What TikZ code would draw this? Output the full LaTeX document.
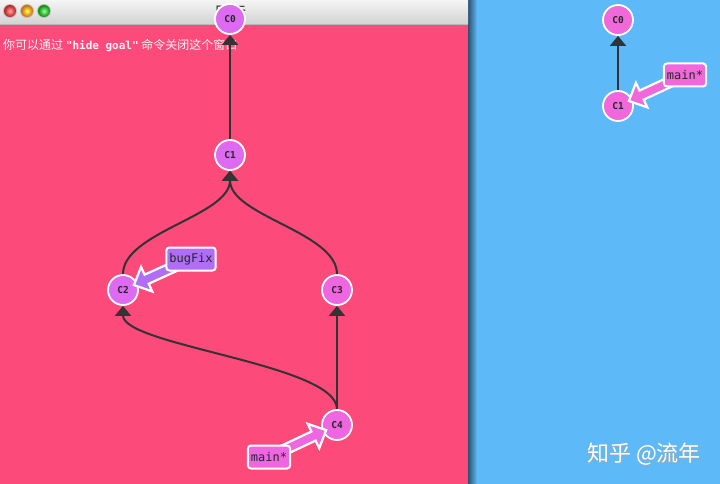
\documentclass[tikz,border=0pt]{standalone}
\usepackage{fontspec}
\setmainfont{Noto Sans CJK SC}
\newfontfamily\monof{DejaVu Sans Mono}
\newfontfamily\cjkf{Noto Sans CJK SC}
\usetikzlibrary{arrows.meta,calc}
\definecolor{pinkbg}{HTML}{FC4A7A}
\definecolor{bluebg}{HTML}{5DB9F8}
\definecolor{violetc}{HTML}{DE6AF2}
\definecolor{pinkc}{HTML}{EE66E0}
\definecolor{rpinkc}{HTML}{F068DA}
\definecolor{bugc}{HTML}{B06EF6}
\definecolor{edgec}{HTML}{333333}
\tikzset{
  commit/.style={circle, draw=white, line width=1.8pt, minimum size=30pt, inner sep=0pt,
    font=\monof\bfseries\fontsize{9.5}{11}\selectfont, text=black!85},
  branchbox/.style={rectangle, rounded corners=3pt, draw=white, line width=2pt,
    inner xsep=3pt, minimum height=23pt, font=\monof\fontsize{12}{14}\selectfont, text=black!85},
  edge/.style={draw=edgec, line width=2pt, -{Triangle[length=10pt,width=16pt]}},
  fatarr/.style={draw=white, line width=2.2pt, line join=miter},
}
% fat branch arrow: #1 branch position, #2 commit node, #3 colour
\newcommand\fatbranch[3]{%
  \coordinate (tp) at ($(#2)!12pt!(#1)$);
  \coordinate (bs) at ($(tp)!14pt!(#1)$);
  \coordinate (tl) at ($(#1)!0.2!(#2)$);
  \draw[fatarr, fill=#3] (tp)
    -- ($(bs)!13.5pt!90:(tp)$) -- ($(bs)!5pt!90:(tp)$)
    -- ($(tl)!5pt!90:(tp)$) -- ($(tl)!5pt!-90:(tp)$)
    -- ($(bs)!5pt!-90:(tp)$) -- ($(bs)!13.5pt!-90:(tp)$) -- cycle;
}
\begin{document}
\begin{tikzpicture}[x=1pt,y=-1pt]
\useasboundingbox (0,0) rectangle (720,484);
% backgrounds
\fill[bluebg] (0,0) rectangle (720,484);
\shade[left color=black!55!bluebg, right color=bluebg] (468,0) rectangle (477,484);
\fill[pinkbg] (0,0) rectangle (468,484);
\shade[top color=gray!8, bottom color=gray!35] (0,0) rectangle (468,24);
\draw[gray!55, line width=0.6pt] (0,24) -- (468,24);
% traffic lights
\fill[gray!50] (10,11) circle (7) (27,11) circle (7) (44,11) circle (7);
\shade[inner color=red!35!white, outer color=red!70!black!90] (10,11) circle (6);
\shade[inner color=yellow!60!white, outer color=orange!80!black] (27,11) circle (6);
\shade[inner color=green!40!white, outer color=green!55!black] (44,11) circle (6);
\node[font=\cjkf\fontsize{16}{17}\selectfont, text=black!80] (title) at (230,12) {目标};
% instruction
\node[anchor=base west, inner sep=0pt, text=white!94!pinkbg, font=\cjkf\fontsize{12}{13}\selectfont] (hint) at (3,50)
  {你可以通过 {\monof\bfseries\fontsize{11}{13}\selectfont"hide goal"} 命令关闭这个窗口};
% left commits
\node[commit, fill=violetc] (c0) at (230,19) {C0};
\node[commit, fill=violetc] (c1) at (230,155) {C1};
\node[commit, fill=violetc] (c2) at (123,290) {C2};
\node[commit, fill=pinkc] (c3) at (337,290) {C3};
\node[commit, fill=pinkc] (c4) at (337,425) {C4};
\draw[edge] (c1) -- (c0);
\draw[edge] (c2.north) .. controls +(0,-42) and +(0,45) .. (c1.south);
\draw[edge] (c3.north) .. controls +(0,-42) and +(0,45) .. (c1.south);
\draw[edge] (c4.north) .. controls +(0,-45) and +(0,40) .. (c2.south);
\draw[edge] (c4) -- (c3);
% left branches
\coordinate (bugpos) at (191,259);
\coordinate (mainlpos) at (269,457);
\fatbranch{bugpos}{c2}{bugc}
\fatbranch{mainlpos}{c4}{pinkc}
\node[branchbox, fill=bugc] (bug) at (bugpos) {bugFix};
\node[branchbox, fill=pinkc] (mainl) at (mainlpos) {main*};
% right panel
\node[commit, fill=rpinkc] (r0) at (618,20) {C0};
\node[commit, fill=rpinkc] (r1) at (618,106) {C1};
\draw[edge] (r1) -- (r0);
\coordinate (mainrpos) at (685,75);
\fatbranch{mainrpos}{r1}{rpinkc}
\node[branchbox, fill=rpinkc] (mainr) at (mainrpos) {main*};
% watermark
\node[text=black!35, font=\cjkf\fontsize{22}{24}\selectfont] at (644.8,454.8) {知乎 @流年};
\node[text=white, font=\cjkf\fontsize{22}{24}\selectfont] (wm) at (644,454) {知乎 @流年};
\end{tikzpicture}
\end{document}
